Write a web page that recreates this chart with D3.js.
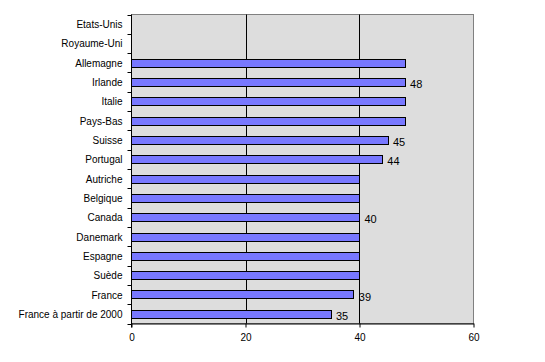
<!DOCTYPE html>
<html>
<head>
<meta charset="utf-8">
<script src="https://cdn.jsdelivr.net/npm/d3@7"></script>
<style>
  body { margin: 0; background: #fff; }
  text { font-family: "Liberation Sans", Arial, sans-serif; fill: #000; }
</style>
</head>
<body>
<div id="chart"></div>
<script>
var countries = ["Etats-Unis", "Royaume-Uni", "Allemagne", "Irlande", "Italie", "Pays-Bas",
    "Suisse", "Portugal", "Autriche", "Belgique", "Canada", "Danemark", "Espagne", "Suède",
    "France", "France à partir de 2000"]
var values = [null, null, 48, 48, 48, 48, 45, 44, 40, 40, 40, 40, 40, 40, 39, 35]
var shownLabels = [false, false, false, true, false, false, true, true, false, false, true, false, false, false, true, true]
var xTicks = [0, 20, 40, 60]

var width = 545, height = 362
var plotLeft = 131.5, plotRight = 473.5, plotTop = 14.5, plotBottom = 323.5

var svg = d3.select("#chart")
    .append("svg")
    .attr("width", width)
    .attr("height", height)

var x = d3.scaleLinear().domain([0, 60]).range([plotLeft, plotRight])
var y = d3.scaleBand().domain(countries).range([plotTop, plotBottom]).paddingInner(0.58).paddingOuter(0.29)
var band = d3.scaleBand().domain(countries).range([plotTop, plotBottom])

// plot background
svg.append("rect")
    .attr("x", plotLeft).attr("y", plotTop)
    .attr("width", plotRight - plotLeft).attr("height", plotBottom - plotTop)
    .style("fill", "#DDDDDD")
    .style("stroke", "#808080")

// gridlines
svg.append("g").selectAll("line")
    .data([20, 40])
    .enter()
    .append("line")
    .attr("x1", function (d) { return Math.round(x(d)) + 0.5 })
    .attr("x2", function (d) { return Math.round(x(d)) + 0.5 })
    .attr("y1", plotTop).attr("y2", plotBottom)
    .style("stroke", "black")

var rows = countries.map(function (c, i) { return { name: c, value: values[i], label: shownLabels[i] } })

// bars
svg.append("g").selectAll("rect")
    .data(rows.filter(function (d) { return d.value != null }))
    .enter()
    .append("rect")
    .attr("x", x(0))
    .attr("y", function (d) { return Math.round(y(d.name)) + 0.5 })
    .attr("width", function (d) { return Math.round(x(d.value) - x(0)) })
    .attr("height", Math.round(y.bandwidth()))
    .style("fill", "#7878FF")
    .style("stroke", "black")

// value labels
svg.append("g").selectAll("text")
    .data(rows.filter(function (d) { return d.label }))
    .enter()
    .append("text")
    .attr("x", function (d) { return x(d.value) + 5 })
    .attr("y", function (d) { return y(d.name) + y.bandwidth() / 2 + 6 })
    .style("font-size", "11px")
    .text(function (d) { return d.value })

// y axis
var yAxis = svg.append("g")
    .attr("transform", "translate(" + plotLeft + ",0)")
yAxis.append("line")
    .attr("y1", plotTop).attr("y2", plotBottom + 4)
    .style("stroke", "black")
yAxis.selectAll("line.tick")
    .data(countries.concat(["end"]))
    .enter()
    .append("line")
    .attr("class", "tick")
    .attr("x1", -4).attr("x2", 0)
    .attr("y1", function (d, i) { return Math.round(plotTop + i * band.step()) + 0.5 })
    .attr("y2", function (d, i) { return Math.round(plotTop + i * band.step()) + 0.5 })
    .style("stroke", "black")
yAxis.selectAll("text")
    .data(countries)
    .enter()
    .append("text")
    .attr("x", -9)
    .attr("y", function (d) { return band(d) + band.bandwidth() / 2 + 4 })
    .attr("text-anchor", "end")
    .style("font-size", "10px")
    .text(function (d) { return d })

// x axis
var xAxis = svg.append("g")
    .attr("transform", "translate(0," + plotBottom + ")")
    .call(d3.axisBottom(x).tickValues(xTicks).tickSize(4).tickSizeOuter(0).tickPadding(6))
xAxis.select(".domain").style("stroke", "black")
xAxis.selectAll("text").style("font-size", "10px").style("font-family", "Liberation Sans, Arial, sans-serif")
</script>
</body>
</html>
